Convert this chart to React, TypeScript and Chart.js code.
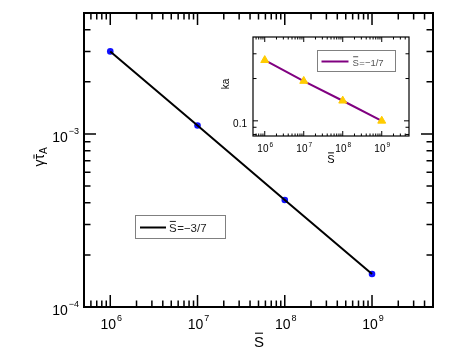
import React, { useEffect, useRef } from "react";
import { Chart, registerables } from "chart.js";
Chart.register(...registerables);

// ---------- data ----------
const mainS = [1e6, 1e7, 1e8, 1e9];
const mainGamma = [3.0e-3, 1.12e-3, 4.15e-4, 1.55e-4];
const mainLegend = "=\u22123/7";

const insetS = [1e6, 1e7, 1e8, 1e9];
const insetKa = [0.27, 0.192, 0.139, 0.1];
const insetLegend = "=\u22121/7";

const xMajorTicks = [1e6, 1e7, 1e8, 1e9];
const xMajorExp = ["6", "7", "8", "9"];
const yMajorTicks = [1e-4, 1e-3];
const yMajorExp = ["\u22124", "\u22123"];
const insetYMajorTicks = [0.1];
const insetYMajorLabels = ["0.1"];

const FONT = '"Liberation Sans", Arial, Helvetica, sans-serif';

function minorLog(min: number, max: number): number[] {
  const out: number[] = [];
  for (let e = Math.floor(Math.log10(min)); e <= Math.ceil(Math.log10(max)); e++) {
    for (let m = 2; m <= 9; m++) {
      const v = m * Math.pow(10, e);
      if (v > min * 1.001 && v < max * 0.999) out.push(v);
    }
  }
  return out;
}

function drawXTicks(ctx: any, a: any, sc: any, vals: number[], len: number) {
  vals.forEach((v) => {
    const px = sc.getPixelForValue(v);
    if (px <= a.left + 1 || px >= a.right - 1) return;
    ctx.beginPath();
    ctx.moveTo(px, a.bottom);
    ctx.lineTo(px, a.bottom - len);
    ctx.moveTo(px, a.top);
    ctx.lineTo(px, a.top + len);
    ctx.stroke();
  });
}
function drawYTicks(ctx: any, a: any, sc: any, vals: number[], len: number) {
  vals.forEach((v) => {
    const py = sc.getPixelForValue(v);
    if (py <= a.top + 1 || py >= a.bottom - 1) return;
    ctx.beginPath();
    ctx.moveTo(a.left, py);
    ctx.lineTo(a.left + len, py);
    ctx.moveTo(a.right, py);
    ctx.lineTo(a.right - len, py);
    ctx.stroke();
  });
}

// draws "S" with an overline, returns width
function drawSbar(ctx: any, x: number, base: number, size: number, color: string) {
  ctx.font = `${size}px ${FONT}`;
  ctx.fillStyle = color;
  ctx.textAlign = "left";
  ctx.textBaseline = "alphabetic";
  ctx.fillText("S", x, base);
  const w = ctx.measureText("S").width;
  ctx.strokeStyle = color;
  ctx.lineWidth = Math.max(1, size / 14);
  const oy = base - size * 0.72 - size * 0.2;
  ctx.beginPath();
  ctx.moveTo(x + w * 0.1, oy);
  ctx.lineTo(x + w * 0.9, oy);
  ctx.stroke();
  return w;
}

function drawPow(ctx: any, cx: number, base: number, size: number, supSize: number, exp: string, supRise: number, align: string) {
  ctx.font = `${size}px ${FONT}`;
  const w1 = ctx.measureText("10").width;
  ctx.font = `${supSize}px ${FONT}`;
  const w2 = ctx.measureText(exp).width;
  const total = w1 + 1 + w2;
  const x0 = align === "center" ? cx - total / 2 : cx - total;
  ctx.fillStyle = "#000";
  ctx.textAlign = "left";
  ctx.textBaseline = "alphabetic";
  ctx.font = `${size}px ${FONT}`;
  ctx.fillText("10", x0, base);
  ctx.font = `${supSize}px ${FONT}`;
  ctx.fillText(exp, x0 + w1 + 1, base - supRise);
}

const mainFrame = {
  id: "mainFrame",
  afterDraw(chart: any) {
    const { ctx, chartArea: a, scales } = chart;
    const xs = scales.x;
    const ys = scales.y;
    ctx.save();
    ctx.strokeStyle = "#000";
    ctx.lineWidth = 1.5;
    drawXTicks(ctx, a, xs, xMajorTicks, 12);
    drawXTicks(ctx, a, xs, minorLog(xs.min, xs.max), 6.5);
    drawYTicks(ctx, a, ys, yMajorTicks, 12);
    drawYTicks(ctx, a, ys, minorLog(ys.min, ys.max), 6.5);
    ctx.lineWidth = 2;
    ctx.strokeRect(a.left, a.top, a.right - a.left, a.bottom - a.top);

    // tick labels
    xMajorTicks.forEach((v, i) => {
      drawPow(ctx, xs.getPixelForValue(v) + 1, a.bottom + 22, 14, 9, xMajorExp[i], 8, "center");
    });
    yMajorTicks.forEach((v, i) => {
      drawPow(ctx, a.left - 5, ys.getPixelForValue(v) + 8, 14, 9, yMajorExp[i], 8, "right");
    });

    // x title
    ctx.font = `15px ${FONT}`;
    const sw = ctx.measureText("S").width;
    drawSbar(ctx, (a.left + a.right) / 2 + 0.5 - sw / 2, 347, 15, "#000");

    // y title (rotated)
    ctx.save();
    ctx.translate(44, 157);
    ctx.rotate(-Math.PI / 2);
    ctx.fillStyle = "#000";
    ctx.textBaseline = "alphabetic";
    ctx.textAlign = "left";
    ctx.font = `14px ${FONT}`;
    const wg = ctx.measureText("\u03b3").width;
    const wt = ctx.measureText("\u03c4").width;
    ctx.font = `10px ${FONT}`;
    const wa = ctx.measureText("A").width;
    const tot = wg + wt + wa;
    let x = -tot / 2;
    ctx.font = `14px ${FONT}`;
    ctx.fillText("\u03b3", x, 0);
    x += wg;
    ctx.fillText("\u03c4", x, 0);
    ctx.strokeStyle = "#000";
    ctx.lineWidth = 1;
    ctx.beginPath();
    ctx.moveTo(x + 1, -10);
    ctx.lineTo(x + wt - 0.5, -10);
    ctx.stroke();
    x += wt;
    ctx.font = `10px ${FONT}`;
    ctx.fillText("A", x, 3);
    ctx.restore();

    // legend
    const ds = chart.data.datasets[0];
    ctx.strokeStyle = "#808080";
    ctx.lineWidth = 1;
    ctx.strokeRect(135.5, 215.5, 90, 23);
    ctx.strokeStyle = ds.borderColor;
    ctx.lineWidth = 2;
    ctx.beginPath();
    ctx.moveTo(140, 227.5);
    ctx.lineTo(166, 227.5);
    ctx.stroke();
    const w = drawSbar(ctx, 169, 232, 11.5, "#222");
    ctx.font = `11.5px ${FONT}`;
    ctx.fillText(mainLegend, 169 + w + 0.5, 232);
    ctx.restore();
  },
};

const insetFrame = {
  id: "insetFrame",
  beforeDatasetsDraw(chart: any) {
    const { ctx, chartArea: a } = chart;
    ctx.save();
    ctx.fillStyle = "#fff";
    ctx.fillRect(a.left, a.top, a.right - a.left, a.bottom - a.top);
    ctx.restore();
  },
  afterDraw(chart: any) {
    const { ctx, chartArea: a, scales } = chart;
    const xs = scales.x;
    const ys = scales.y;
    ctx.save();
    ctx.strokeStyle = "#000";
    ctx.lineWidth = 1;
    drawXTicks(ctx, a, xs, xMajorTicks, 5);
    drawXTicks(ctx, a, xs, minorLog(xs.min, xs.max), 2.5);
    drawYTicks(ctx, a, ys, insetYMajorTicks, 5);
    drawYTicks(ctx, a, ys, minorLog(ys.min, ys.max), 3.5);
    ctx.lineWidth = 1.2;
    ctx.strokeRect(a.left, a.top, a.right - a.left, a.bottom - a.top);

    xMajorTicks.forEach((v, i) => {
      drawPow(ctx, xs.getPixelForValue(v) + 0.5, a.bottom + 16, 10, 6.5, xMajorExp[i], 5, "center");
    });
    ctx.font = `10px ${FONT}`;
    ctx.fillStyle = "#000";
    ctx.textAlign = "right";
    insetYMajorTicks.forEach((v, i) => {
      ctx.fillText(insetYMajorLabels[i], a.left - 6, ys.getPixelForValue(v) + 6);
    });

    // x title
    ctx.font = `11px ${FONT}`;
    const sw = ctx.measureText("S").width;
    drawSbar(ctx, 331 - sw / 2, 163, 11, "#000");

    // y title
    ctx.save();
    ctx.translate(229, 84);
    ctx.rotate(-Math.PI / 2);
    ctx.font = `10px ${FONT}`;
    ctx.textAlign = "center";
    ctx.fillStyle = "#000";
    ctx.fillText("ka", 0, 0);
    ctx.restore();

    // legend
    const ds = chart.data.datasets[0];
    ctx.strokeStyle = "#808080";
    ctx.lineWidth = 1;
    ctx.strokeRect(317.5, 50.5, 78, 21);
    ctx.strokeStyle = ds.borderColor;
    ctx.lineWidth = 2;
    ctx.beginPath();
    ctx.moveTo(321.5, 61.5);
    ctx.lineTo(348.5, 61.5);
    ctx.stroke();
    const w = drawSbar(ctx, 352.5, 65.5, 9.5, "#555");
    ctx.font = `9.5px ${FONT}`;
    ctx.textAlign = "left";
    ctx.fillText(insetLegend, 352.5 + w + 0.5, 65.5);
    ctx.restore();
  },
};

export default function App() {
  const mainRef = useRef<HTMLCanvasElement>(null);
  const insetRef = useRef<HTMLCanvasElement>(null);

  useEffect(() => {
    const mainPts = mainS.map((x, i) => ({ x, y: mainGamma[i] }));
    const insetPts = insetS.map((x, i) => ({ x, y: insetKa[i] }));

    const main = new Chart(mainRef.current as HTMLCanvasElement, {
      type: "line",
      data: {
        datasets: [
          {
            label: "S=-3/7",
            data: mainPts,
            borderColor: "#000000",
            borderWidth: 2,
            pointRadius: 0,
            tension: 0,
            order: 0,
          },
          {
            label: "points",
            data: mainPts,
            showLine: false,
            pointStyle: "circle",
            pointRadius: 3.3,
            pointBackgroundColor: "#1010ff",
            pointBorderColor: "#1010ff",
            borderWidth: 0,
            order: 1,
          },
        ],
      },
      options: {
        responsive: false,
        animation: false,
        devicePixelRatio: 1,
        layout: { padding: { left: 84, top: 13, right: 19, bottom: 55 } },
        scales: {
          x: { type: "logarithmic", min: 5e5, max: 5e9, display: false },
          y: { type: "logarithmic", min: 1e-4, max: 5e-3, display: false },
        },
        plugins: { legend: { display: false }, tooltip: { enabled: false } },
      } as any,
      plugins: [mainFrame],
    });

    const inset = new Chart(insetRef.current as HTMLCanvasElement, {
      type: "line",
      data: {
        datasets: [
          {
            label: "S=-1/7",
            data: insetPts,
            borderColor: "#800080",
            borderWidth: 2,
            pointStyle: "triangle",
            pointRadius: 4.6,
            pointBackgroundColor: "#ffcc00",
            pointBorderColor: "#ffcc00",
            pointBorderWidth: 1,
            tension: 0,
          },
        ],
      },
      options: {
        responsive: false,
        animation: false,
        devicePixelRatio: 1,
        layout: { padding: { left: 253, top: 37, right: 43, bottom: 226 } },
        scales: {
          x: { type: "logarithmic", min: 5e5, max: 5e9, display: false },
          y: { type: "logarithmic", min: 0.078, max: 0.395, display: false },
        },
        plugins: { legend: { display: false }, tooltip: { enabled: false } },
      } as any,
      plugins: [insetFrame],
    });

    return () => {
      main.destroy();
      inset.destroy();
    };
  }, []);

  const style: React.CSSProperties = { position: "absolute", left: 0, top: 0 };
  return (
    <div>
      <canvas ref={mainRef} width={452} height={362} style={style} />
      <canvas ref={insetRef} width={452} height={362} style={style} />
    </div>
  );
}
